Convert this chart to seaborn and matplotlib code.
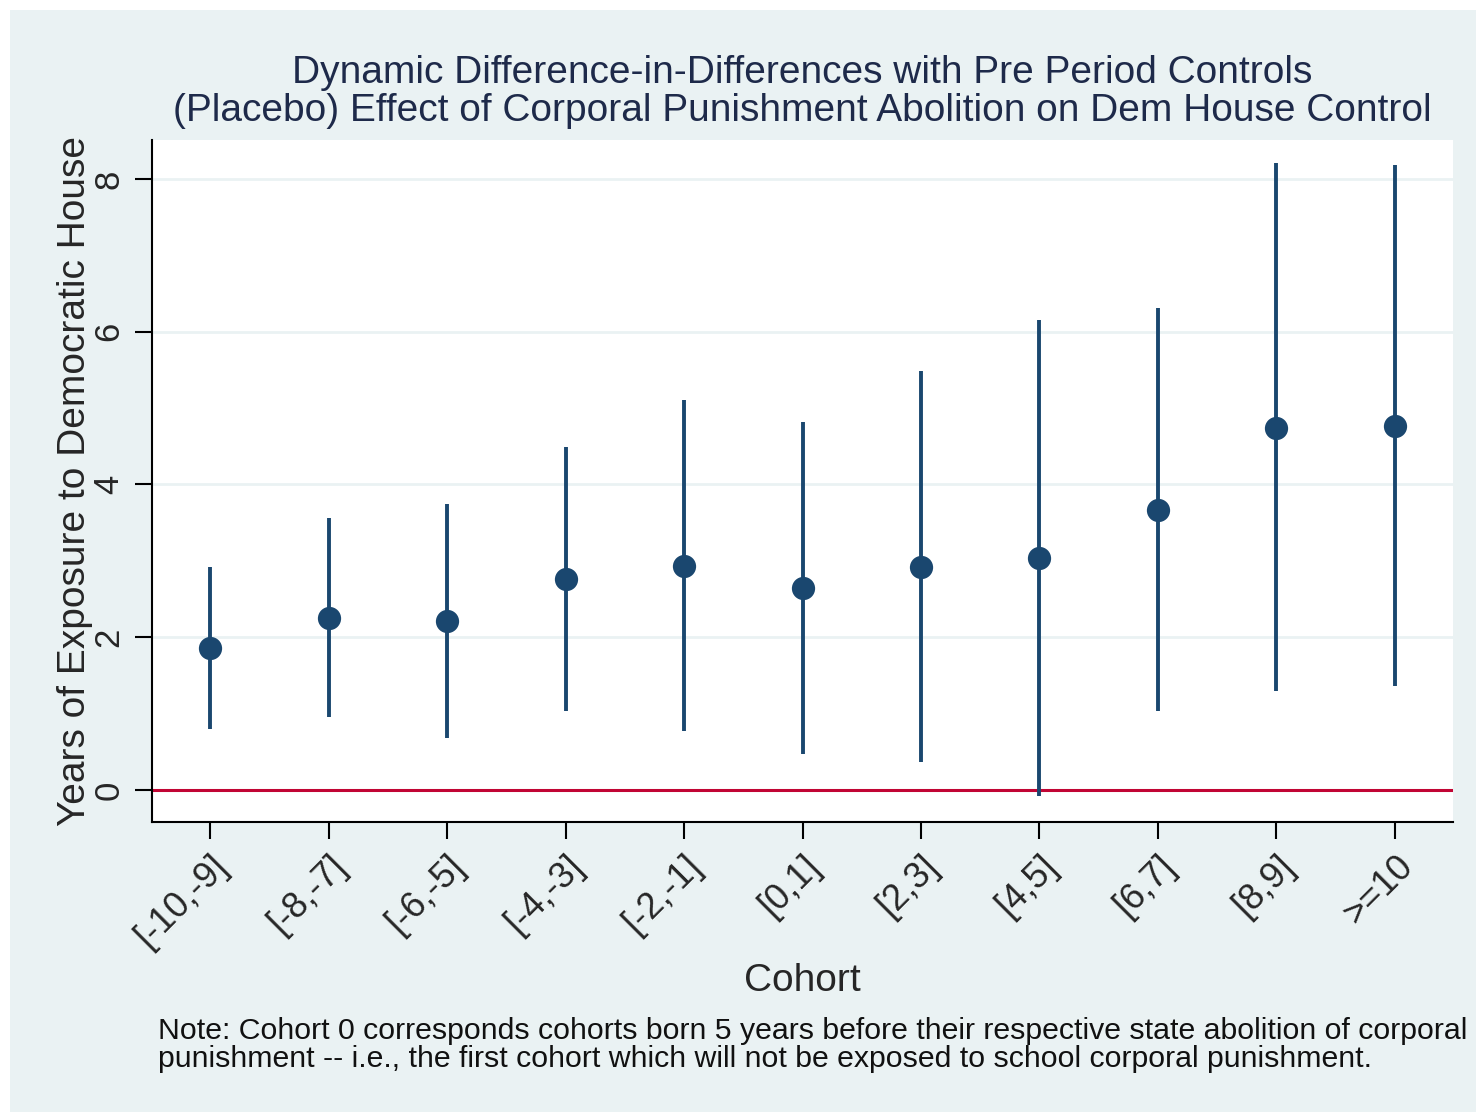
import numpy as np
import pandas as pd
import seaborn as sns
import matplotlib.pyplot as plt
from matplotlib.patches import Rectangle

# data
cohorts = ['[-10,-9]', '[-8,-7]', '[-6,-5]', '[-4,-3]', '[-2,-1]', '[0,1]',
           '[2,3]', '[4,5]', '[6,7]', '[8,9]', '>=10']
coef = [1.86, 2.25, 2.21, 2.76, 2.93, 2.64, 2.92, 3.04, 3.66, 4.74, 4.76]
ci_low = [0.80, 0.96, 0.68, 1.03, 0.77, 0.47, 0.37, -0.08, 1.03, 1.30, 1.36]
ci_high = [2.92, 3.56, 3.74, 4.49, 5.10, 4.82, 5.48, 6.15, 6.31, 8.21, 8.18]

df = pd.DataFrame({'cohort': cohorts, 'coef': coef, 'lo': ci_low, 'hi': ci_high})
df['pos'] = np.arange(len(df))

bg = '#EAF2F3'
navy = '#1A476F'
red = '#C10534'

sns.set_theme(style='white')
plt.rcParams['font.family'] = ['Liberation Sans', 'DejaVu Sans']

fig = plt.figure(figsize=(14.76, 11.15), dpi=100, facecolor='white')
fig.patches.append(Rectangle((10 / 1476, 3 / 1115), 1466 / 1476, 1102 / 1115,
                             transform=fig.transFigure, facecolor=bg,
                             edgecolor='none', zorder=-10))
ax = fig.add_axes([152 / 1476, 1 - 822 / 1115, (1453 - 152) / 1476, (822 - 140) / 1115])
ax.set_facecolor('white')

# gridlines
for g in [2, 4, 6, 8]:
    ax.axhline(g, color=bg, lw=2, zorder=0)
ax.axhline(0, color=red, lw=2.2, zorder=1)

ax.vlines(df['pos'], df['lo'], df['hi'], color=navy, lw=2.8, zorder=2)
sns.scatterplot(data=df, x='pos', y='coef', color=navy, s=280, edgecolor=navy,
                linewidth=0, ax=ax, zorder=3)

ax.set_xlim(-0.49, 10.49)
ax.set_ylim(-0.42, 8.51)
ax.set_xticks(df['pos'])
ax.set_xticklabels(cohorts, rotation=45, ha='right', rotation_mode='anchor', fontsize=26)
ax.set_yticks([0, 2, 4, 6, 8])
ax.set_yticklabels(['0', '2', '4', '6', '8'], rotation=90, va='center', fontsize=25)
ax.tick_params(axis='both', direction='out', length=12, width=1.5, color='black',
               bottom=True, left=True, pad=7)

for s in ['top', 'right']:
    ax.spines[s].set_visible(False)
for s in ['left', 'bottom']:
    ax.spines[s].set_color('black')
    ax.spines[s].set_linewidth(1.5)

ax.set_xlabel('Cohort', fontsize=28, labelpad=6)
ax.set_ylabel('Years of Exposure to Democratic House', fontsize=28, labelpad=0)

fig.text(802 / 1476, 1 - 92 / 1115,
         'Dynamic Difference-in-Differences with Pre Period Controls\n'
         '(Placebo) Effect of Corporal Punishment Abolition on Dem House Control',
         ha='center', va='center', fontsize=28, color='#1E2A4A', linespacing=1.05)

fig.text(158 / 1476, 1 - 1045 / 1115,
         'Note: Cohort 0 corresponds cohorts born 5 years before their respective state abolition of corporal\n'
         'punishment -- i.e., the first cohort which will not be exposed to school corporal punishment.',
         ha='left', va='center', fontsize=21.8, linespacing=0.97, color='#111111')

fig.savefig('out.png', dpi=100, facecolor='white')
